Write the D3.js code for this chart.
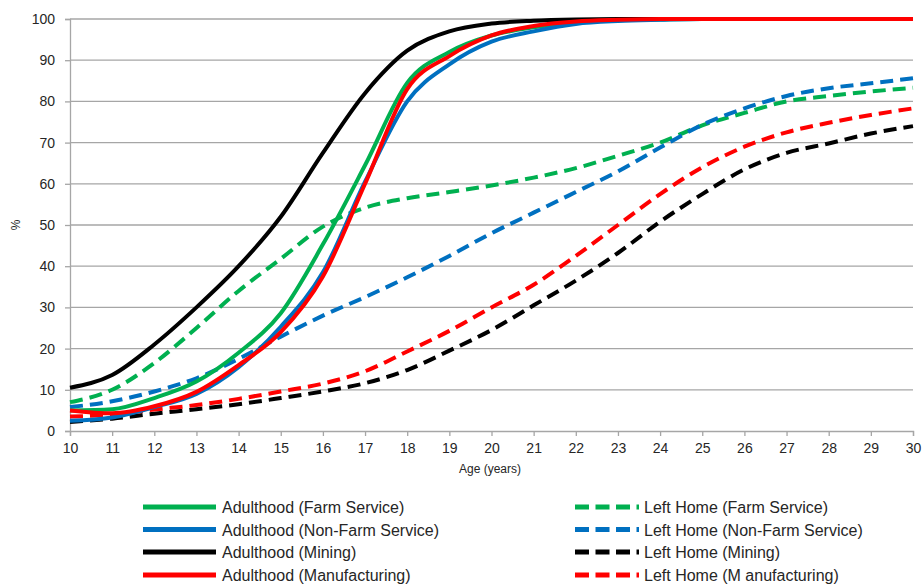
<!DOCTYPE html>
<html>
<head>
<meta charset="utf-8">
<script src="https://cdn.jsdelivr.net/npm/d3@7"></script>
<style>
  html, body { margin: 0; padding: 0; background: #fff; }
  svg { display: block; }
</style>
</head>
<body>
<svg id="chart" width="922" height="584"></svg>
<script>
const ages = [10,11,12,13,14,15,16,17,18,19,20,21,22,23,24,25,26,27,28,29,30];
const yTicks = [0,10,20,30,40,50,60,70,80,90,100];

const adultFarm    = [5,5.3,8,12,19,28.6,45.3,64.5,84.5,92,96,98,99.2,99.7,99.9,100,100,100,100,100,100];
const adultNonFarm = [2.5,3.3,5.8,9,15.5,25.3,38.5,60.5,80,89,94.5,97,98.8,99.5,99.8,100,100,100,100,100,100];
const adultMining  = [10.5,13.6,21,30,40,52,67.5,82,92.3,97,98.9,99.6,99.9,100,100,100,100,100,100,100,100];
const adultManuf   = [5,4.3,6,9.5,16,24,37.5,60,83,91,96,98.3,99.4,99.8,100,100,100,100,100,100,100];

const leftFarm     = [7,10,16.5,25,34,41.8,49.6,54.2,56.5,58,59.6,61.5,63.8,66.8,70,74.2,77.2,80,81.3,82.4,83.3];
const leftNonFarm  = [5.8,7.2,9.6,12.8,17.5,22.9,28,32.5,37.3,42.5,48,53,58,63,68.8,74.3,78.3,81.3,83.2,84.4,85.6];
const leftMining   = [2.2,3,4.2,5.3,6.5,8,9.6,11.6,14.8,19.5,24.5,30.5,36.5,43.2,50.8,57.5,63.5,67.5,69.8,72.2,74];
const leftManuf    = [3.5,4,5.2,6.3,7.8,9.6,11.5,14.5,19.3,24.3,30,35.5,42.5,50,57.5,64,69,72.5,74.8,76.7,78.3];

const series = [
  {name: "Adulthood (Farm Service)",      values: adultFarm,    color: "#00B050", dashed: false},
  {name: "Adulthood (Non-Farm Service)",  values: adultNonFarm, color: "#0070C0", dashed: false},
  {name: "Adulthood (Mining)",            values: adultMining,  color: "#000000", dashed: false},
  {name: "Adulthood (Manufacturing)",     values: adultManuf,   color: "#FF0000", dashed: false},
  {name: "Left Home (Farm Service)",      values: leftFarm,     color: "#00B050", dashed: true},
  {name: "Left Home (Non-Farm Service)",  values: leftNonFarm,  color: "#0070C0", dashed: true},
  {name: "Left Home (Mining)",            values: leftMining,   color: "#000000", dashed: true},
  {name: "Left Home (M anufacturing)",    values: leftManuf,    color: "#FF0000", dashed: true}
];

const svg = d3.select("#chart");
const margin = {left: 70, right: 9, top: 19, bottom: 153};
const W = 922, H = 584;
const x = d3.scaleLinear().domain([10, 30]).range([margin.left, W - margin.right]);
const y = d3.scaleLinear().domain([0, 100]).range([H - margin.bottom, margin.top]);

const font = "'Liberation Sans', Arial, sans-serif";
const gridColor = "#a6a6a6";

// gridlines
svg.append("g").selectAll("line").data(yTicks.filter(d => d > 0)).join("line")
  .attr("x1", x(10)).attr("x2", x(30))
  .attr("y1", d => y(d)).attr("y2", d => y(d))
  .attr("stroke", gridColor).attr("stroke-width", 1.3);

// axes
const xAxis = svg.append("g").attr("transform", `translate(0,${y(0)})`)
  .call(d3.axisBottom(x).tickValues(ages).tickFormat(d3.format("d")).tickSize(5).tickPadding(7));
const yAxis = svg.append("g").attr("transform", `translate(${x(10)},0)`)
  .call(d3.axisLeft(y).tickValues(yTicks).tickSize(5).tickPadding(10));
[xAxis, yAxis].forEach(g => {
  g.select(".domain").attr("stroke", gridColor).attr("stroke-width", 1.3);
  g.selectAll(".tick line").attr("stroke", gridColor).attr("stroke-width", 1.3);
  g.selectAll(".tick text").attr("fill", "#262626").style("font-family", font).style("font-size", "14px");
});

// lines
const line = d3.line().x((d, i) => x(ages[i])).y(d => y(d)).curve(d3.curveMonotoneX);
const order = [4,5,6,7,0,1,2,3];
svg.append("g").selectAll("path").data(order.map(i => series[i])).join("path")
  .attr("d", s => line(s.values))
  .attr("fill", "none")
  .attr("stroke", s => s.color)
  .attr("stroke-width", 4)
  .attr("stroke-dasharray", s => s.dashed ? "13,7" : null)
  .attr("stroke-linejoin", "round");

// axis titles
svg.append("text").attr("x", 490).attr("y", 473).attr("text-anchor", "middle")
  .style("font-family", font).style("font-size", "12px").attr("fill", "#262626").text("Age (years)");
svg.append("text").attr("transform", "translate(20,225) rotate(-90)").attr("text-anchor", "middle")
  .style("font-family", font).style("font-size", "12px").attr("fill", "#262626").text("%");

// legend
const legRowY = [507, 529.5, 552, 575];
const leg = svg.append("g");
series.forEach((s, i) => {
  const col = s.dashed ? 1 : 0;
  const row = i % 4;
  const lx1 = col === 0 ? 143 : 575;
  const lx2 = col === 0 ? 216 : 639;
  const ly = legRowY[row];
  leg.append("line").attr("x1", lx1).attr("x2", lx2).attr("y1", ly).attr("y2", ly)
    .attr("stroke", s.color).attr("stroke-width", 5)
    .attr("stroke-dasharray", s.dashed ? "14,6.5" : null);
  leg.append("text").attr("x", col === 0 ? 222 : 644).attr("y", ly + 6)
    .style("font-family", font).style("font-size", "16px").attr("fill", "#262626").text(s.name);
});
</script>
</body>
</html>
